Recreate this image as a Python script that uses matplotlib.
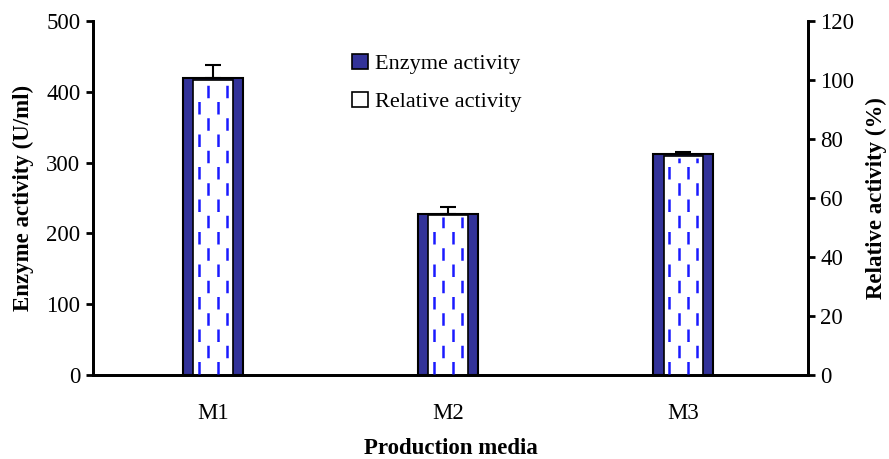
import matplotlib
matplotlib.use("Agg")
import matplotlib.pyplot as plt
from matplotlib.patches import Patch
import numpy as np

categories = ["M1", "M2", "M3"]
enzyme_activity = [420, 227, 312]
enzyme_err = [18, 10, 3]
relative_activity = [100, 54.3, 74.3]

plt.rcParams['font.family'] = ['Liberation Serif', 'DejaVu Serif']

fig = plt.figure(figsize=(8.89, 4.59), dpi=100)
ax = fig.add_axes([0.1046, 0.183, 0.8042, 0.771])
ax2 = ax.twinx()

x = np.arange(len(categories))
outer_w = 0.255
inner_w = 0.167

ax.bar(x, enzyme_activity, width=outer_w, color='#333399', edgecolor='black',
       linewidth=1.5, zorder=2)
ax.errorbar(x, enzyme_activity, yerr=[np.zeros(3), enzyme_err], fmt='none',
            ecolor='black', elinewidth=1.5, capsize=6, capthick=1.5, zorder=3)

ax2.bar(x, relative_activity, width=inner_w, color='white', edgecolor='black',
        linewidth=1.2, zorder=2)
# dashed vertical pattern inside relative bars
offsets = np.array([-0.36, -0.12, 0.12, 0.36]) * inner_w
for xi, v in zip(x, relative_activity):
    for k, o in enumerate(offsets):
        ls = (0 if k % 2 == 0 else 6.5, (5, 8))
        ax2.vlines(xi + o, 0.4, v - 0.8, colors='#1a1aff', linewidth=1.8,
                   linestyles=[ls], zorder=3)

ax.set_xlim(-0.51, 2.53)
ax.set_ylim(0, 500)
ax2.set_ylim(0, 120)
ax.set_yticks(np.arange(0, 501, 100))
ax2.set_yticks(np.arange(0, 121, 20))
ax.set_xticks(x)
ax.set_xticklabels(categories)

for a in (ax, ax2):
    a.spines['top'].set_visible(False)
    for s in ('left', 'right', 'bottom'):
        a.spines[s].set_linewidth(2)
        a.spines[s].set_color('black')
    a.tick_params(axis='y', direction='out', length=5, width=2, labelsize=16.5, pad=4)
ax.tick_params(axis='x', length=0, labelsize=16.5, pad=20)

ax.set_xlabel("Production media", fontsize=16.5, fontweight='bold', labelpad=10)
ax.set_ylabel("Enzyme activity (U/ml)", fontsize=16.5, fontweight='bold', labelpad=9)
ax2.set_ylabel("Relative activity (%)", fontsize=16.5, fontweight='bold', labelpad=8)

handles = [Patch(facecolor='#333399', edgecolor='black', linewidth=1.2),
           Patch(facecolor='white', edgecolor='black', linewidth=1.2)]
ax.legend(handles, ["Enzyme activity", "Relative activity"], loc='upper left',
          bbox_to_anchor=(0.335, 0.965), frameon=False, fontsize=16,
          handlelength=0.7, handleheight=0.7, handletextpad=0.3, labelspacing=0.8)

fig.savefig("out.png", dpi=100)
